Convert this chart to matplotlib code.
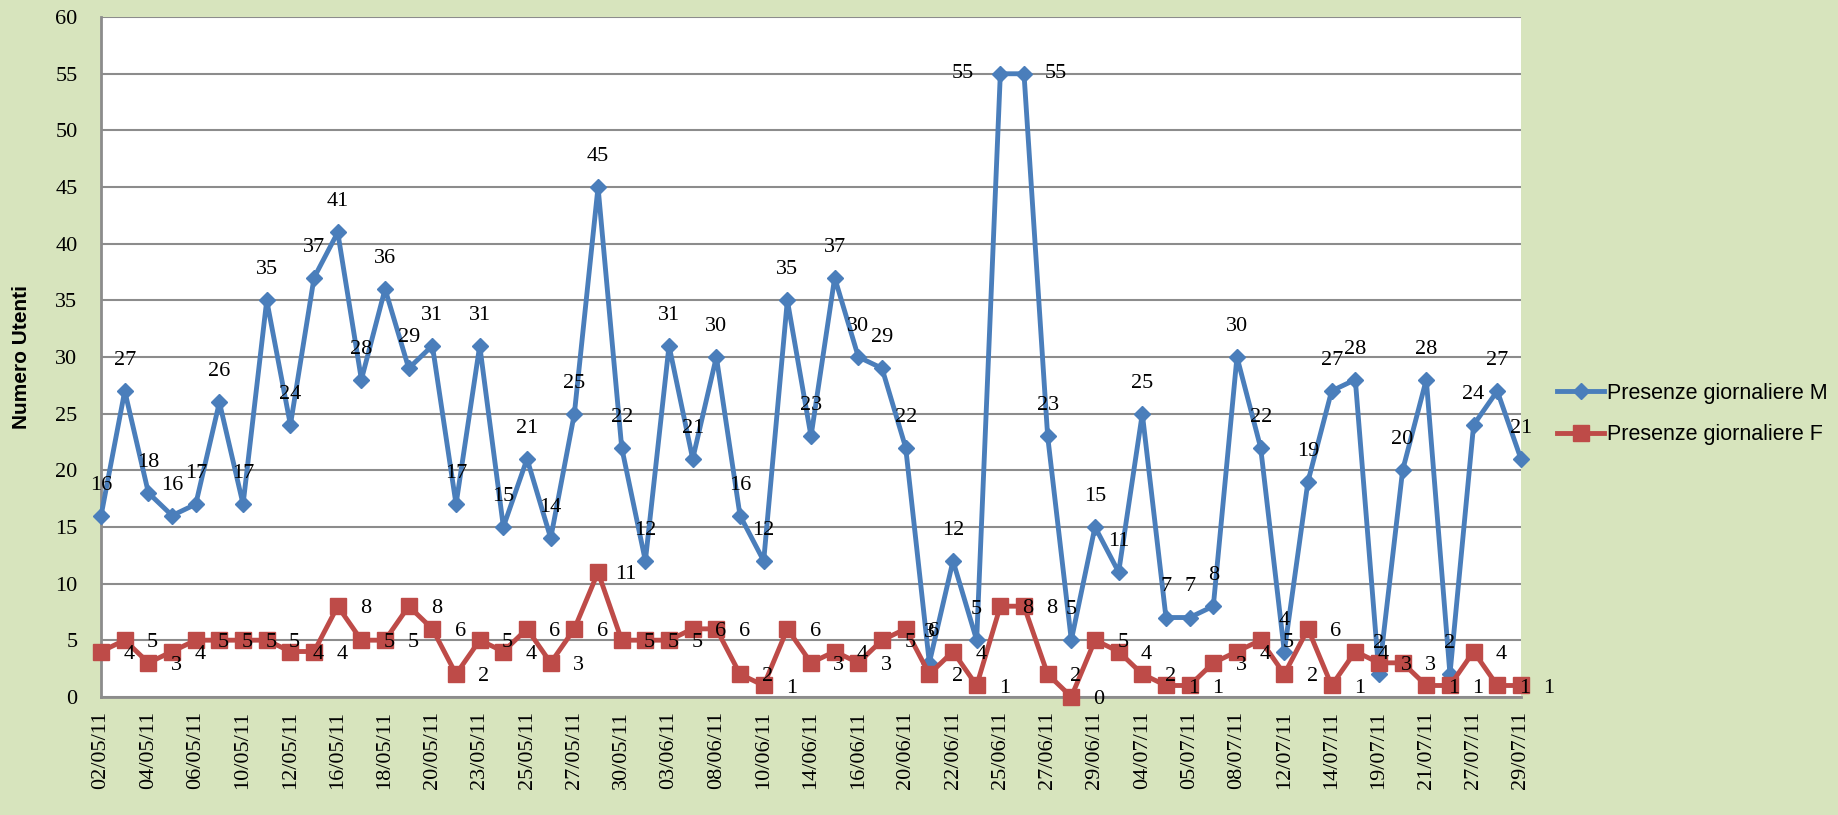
import numpy as np
import matplotlib.pyplot as plt

# tick labels shown on the x axis (every other day of the series)
tick_dates = ['02/05/11', '04/05/11', '06/05/11', '10/05/11', '12/05/11', '16/05/11',
              '18/05/11', '20/05/11', '23/05/11', '25/05/11', '27/05/11', '30/05/11',
              '03/06/11', '08/06/11', '10/06/11', '14/06/11', '16/06/11', '20/06/11',
              '22/06/11', '25/06/11', '27/06/11', '29/06/11', '04/07/11', '05/07/11',
              '08/07/11', '12/07/11', '14/07/11', '19/07/11', '21/07/11', '27/07/11',
              '29/07/11']

presenze_m = [16, 27, 18, 16, 17, 26, 17, 35, 24, 37, 41, 28, 36, 29, 31, 17, 31, 15,
              21, 14, 25, 45, 22, 12, 31, 21, 30, 16, 12, 35, 23, 37, 30, 29, 22, 3,
              12, 5, 55, 55, 23, 5, 15, 11, 25, 7, 7, 8, 30, 22, 4, 19, 27, 28, 2,
              20, 28, 2, 24, 27, 21]

presenze_f = [4, 5, 3, 4, 5, 5, 5, 5, 4, 4, 8, 5, 5, 8, 6, 2, 5, 4, 6, 3, 6, 11, 5,
              5, 5, 6, 6, 2, 1, 6, 3, 4, 3, 5, 6, 2, 4, 1, 8, 8, 2, 0, 5, 4, 2, 1, 1,
              3, 4, 5, 2, 6, 1, 4, 3, 3, 1, 1, 4, 1, 1]

BG = '#D7E4BD'
BLUE = '#4A7EBB'
RED = '#BE4B48'
GRID = '#8C8C8C'
NUM_FONT = 'Liberation Serif'
TXT_FONT = 'Liberation Sans'


def main() -> None:
    fig = plt.figure(figsize=(18.38, 8.15), dpi=100, facecolor=BG)
    ax = fig.add_axes([0.055, 0.145, 0.7725, 0.834])
    ax.set_facecolor('white')

    x = np.arange(len(presenze_m))
    ax.plot(x, presenze_m, color=BLUE, lw=3.5, marker='D', ms=8.5,
            label='Presenze giornaliere M', zorder=3, clip_on=False)
    ax.plot(x, presenze_f, color=RED, lw=3.5, marker='s', ms=12,
            label='Presenze giornaliere F', zorder=4, clip_on=False)

    # data labels: M above the point, F to the right
    for i, v in enumerate(presenze_m):
        off = (0, 22)
        if v == 55:
            off = (-27, 0) if presenze_m[i + 1] == 55 else (23, 0)
        ax.annotate(str(v), (i, v), xytext=off, textcoords='offset points',
                    ha='center', va='center', fontsize=16, family=NUM_FONT,
                    zorder=5, annotation_clip=False)
    for i, v in enumerate(presenze_f):
        ax.annotate(str(v), (i, v), xytext=(20, -2), textcoords='offset points',
                    ha='center', va='center', fontsize=16, family=NUM_FONT,
                    zorder=5, annotation_clip=False)

    ax.set_xlim(0, len(presenze_m) - 1)
    ax.set_ylim(0, 60)
    ax.set_yticks(range(0, 61, 5))
    ax.set_xticks(range(0, len(presenze_m), 2))
    ax.set_xticklabels(tick_dates, rotation=90, family=NUM_FONT, fontsize=16)
    for lab in ax.get_yticklabels():
        lab.set_family(NUM_FONT)
        lab.set_fontsize(16)
    ax.tick_params(axis='both', length=0, colors='black')
    ax.tick_params(axis='x', pad=10)
    ax.tick_params(axis='y', pad=17)

    ax.grid(axis='y', color=GRID, lw=1.5)
    ax.set_axisbelow(True)
    for side in ['top', 'right']:
        ax.spines[side].set_visible(False)
    for side in ['left', 'bottom']:
        ax.spines[side].set_color(GRID)
        ax.spines[side].set_linewidth(2)

    fig.text(22 / 1838, 0.562, 'Numero Utenti', rotation=90, ha='center',
             va='center', fontsize=15, fontweight='bold', family=TXT_FONT)

    fig.legend(loc='center left', bbox_to_anchor=(1557 / 1838, 1 - 414 / 815),
               frameon=False, prop={'family': TXT_FONT, 'size': 15.5},
               handlelength=2.2, handletextpad=0.1, labelspacing=0.95,
               borderpad=0, borderaxespad=0)

    fig.savefig('out.png', dpi=100, facecolor=BG)


if __name__ == '__main__':
    main()
